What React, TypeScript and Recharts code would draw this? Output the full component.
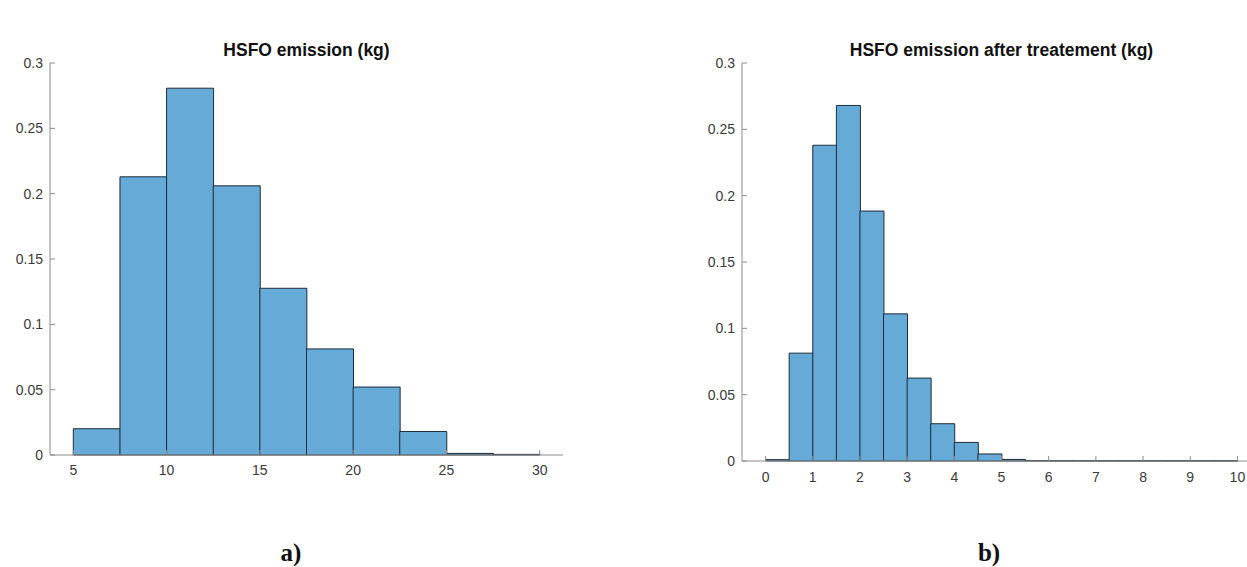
import React from "react";
import { BarChart, Bar, XAxis, YAxis } from "recharts";

// Left histogram: HSFO emission (kg), bin width 2.5
const leftBinCenters = [6.25, 8.75, 11.25, 13.75, 16.25, 18.75, 21.25, 23.75, 26.25, 28.75];
const leftValues = [0.0201, 0.2129, 0.2807, 0.206, 0.1276, 0.0812, 0.052, 0.018, 0.0012, 0.0005];
const leftXTicks = [5, 10, 15, 20, 25, 30];

// Right histogram: HSFO emission after treatement (kg), bin width 0.5
const rightBinCenters = [0.25, 0.75, 1.25, 1.75, 2.25, 2.75, 3.25, 3.75, 4.25, 4.75, 5.25, 5.75, 6.25, 6.75, 7.25, 7.75, 8.25, 8.75, 9.25, 9.75];
const rightValues = [0.001, 0.0813, 0.238, 0.268, 0.1884, 0.1109, 0.0625, 0.0281, 0.014, 0.0053, 0.0012, 0.0003, 0.0002, 0.0002, 0.0002, 0.0002, 0.0002, 0.0002, 0.0002, 0.0002];
const rightXTicks = [0, 1, 2, 3, 4, 5, 6, 7, 8, 9, 10];

const yTicks = [0, 0.05, 0.1, 0.15, 0.2, 0.25, 0.3];

const leftTitle = "HSFO emission (kg)";
const rightTitle = "HSFO emission after treatement (kg)";

const leftData = leftBinCenters.map((x, i) => ({ x, v: leftValues[i] }));
const rightData = rightBinCenters.map((x, i) => ({ x, v: rightValues[i] }));

const AXIS = "#8c8c8c";
const TICK_TEXT = { fill: "#3a3a3a", fontSize: 14, fontFamily: "'Liberation Sans', Arial, sans-serif" };
const BAR_FILL = "#66aad7";
const BAR_STROKE = "#1d2b38";

const titleStyle: React.CSSProperties = {
  position: "absolute",
  fontFamily: "'Liberation Sans', Arial, sans-serif",
  fontWeight: "bold",
  fontSize: 17.5,
  color: "#111",
  textAlign: "center",
  whiteSpace: "nowrap",
  lineHeight: "20px",
};

const panelLabel: React.CSSProperties = {
  position: "absolute",
  fontFamily: "'Liberation Serif', 'Times New Roman', serif",
  fontWeight: "bold",
  fontSize: 25,
  color: "#111",
  textAlign: "center",
  lineHeight: "28px",
};

export default function App() {
  return (
    <div
      style={{
        position: "absolute",
        left: 0,
        top: 0,
        width: 1247,
        height: 567,
        overflow: "hidden",
        background: "#fff",
      }}
    >
      <div style={{ ...titleStyle, left: 50, width: 513, top: 40 }}>{leftTitle}</div>
      <div style={{ ...titleStyle, left: 742, width: 519, top: 40 }}>{rightTitle}</div>

      <div style={{ position: "absolute", left: 0, top: 0 }}>
        <BarChart
          width={600}
          height={485}
          data={leftData}
          margin={{ top: 63, right: 37, bottom: 0, left: 0 }}
          barCategoryGap={0}
          barGap={0}
        >
          <XAxis
            dataKey="x"
            type="number"
            domain={[3.75, 31.25]}
            ticks={leftXTicks}
            allowDataOverflow
            stroke={AXIS}
            tickSize={-5}
            tickMargin={15}
            height={30}
            tick={TICK_TEXT}
            interval={0}
          />
          <YAxis
            type="number"
            domain={[0, 0.3]}
            ticks={yTicks}
            stroke={AXIS}
            tickSize={-5}
            tickMargin={12}
            width={50}
            tick={TICK_TEXT}
            interval={0}
          />
          <Bar dataKey="v" fill={BAR_FILL} stroke={BAR_STROKE} strokeWidth={1} isAnimationActive={false} />
        </BarChart>
      </div>

      <div style={{ position: "absolute", left: 692, top: 0 }}>
        <BarChart
          width={579}
          height={491}
          data={rightData}
          margin={{ top: 63, right: 10, bottom: 0, left: 0 }}
          barCategoryGap={0}
          barGap={0}
        >
          <XAxis
            dataKey="x"
            type="number"
            domain={[-0.5, 10.5]}
            ticks={rightXTicks}
            allowDataOverflow
            stroke={AXIS}
            tickSize={-5}
            tickMargin={16}
            height={30}
            tick={TICK_TEXT}
            interval={0}
          />
          <YAxis
            type="number"
            domain={[0, 0.3]}
            ticks={yTicks}
            stroke={AXIS}
            tickSize={-5}
            tickMargin={12}
            width={50}
            tick={TICK_TEXT}
            interval={0}
          />
          <Bar dataKey="v" fill={BAR_FILL} stroke={BAR_STROKE} strokeWidth={1} isAnimationActive={false} />
        </BarChart>
      </div>

      <div style={{ ...panelLabel, left: 266, width: 50, top: 539 }}>a)</div>
      <div style={{ ...panelLabel, left: 964, width: 50, top: 539 }}>b)</div>
    </div>
  );
}
